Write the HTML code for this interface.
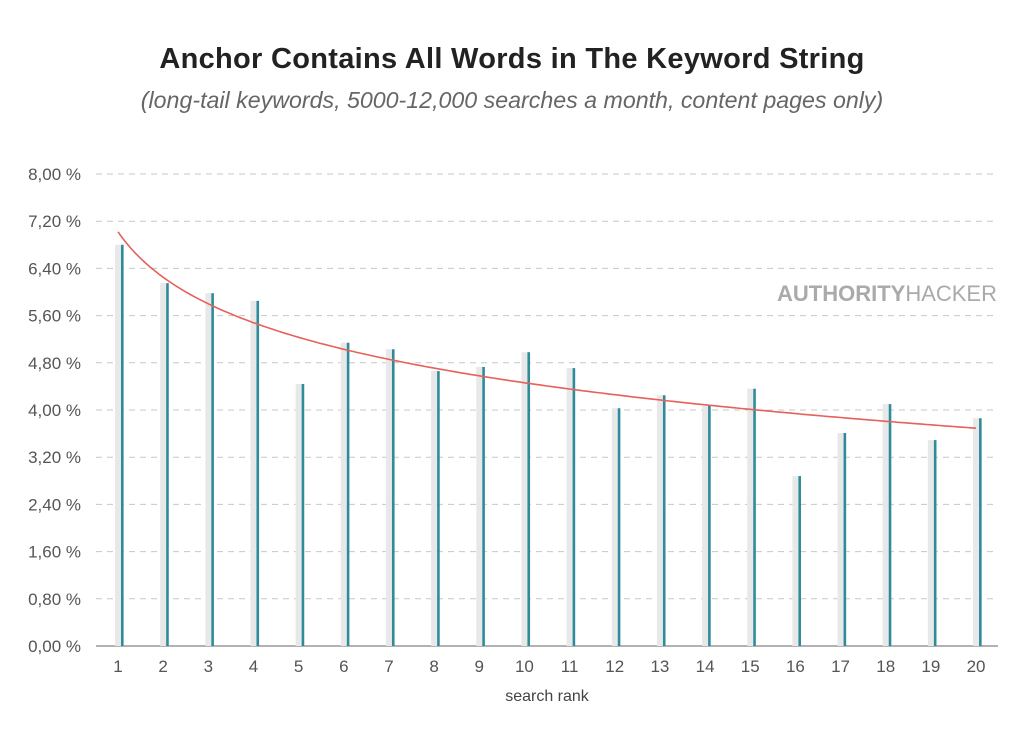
<!DOCTYPE html>
<html><head><meta charset="utf-8"><style>
body{margin:0;background:#fff;width:1024px;height:727px;overflow:hidden;font-family:"Liberation Sans",sans-serif;}
</style></head><body>
<svg width="1024" height="727" xmlns="http://www.w3.org/2000/svg">
<text x="512" y="68" text-anchor="middle" font-family="Liberation Sans" font-weight="bold" font-size="29" fill="#222" letter-spacing="0.3">Anchor Contains All Words in The Keyword String</text>
<text x="512" y="108" text-anchor="middle" font-family="Liberation Sans" font-style="italic" font-size="23.2" fill="#666">(long-tail keywords, 5000-12,000 searches a month, content pages only)</text>
<g id="grid"></g>
<text x="997" y="301" text-anchor="end" font-family="Liberation Sans" font-size="22" fill="#aaa"><tspan font-weight="bold">AUTHORITY</tspan>HACKER</text>
<line x1="96" y1="646" x2="998" y2="646" stroke="#999" stroke-width="1.5"/>
<g id="bars"></g>
<path id="trend" fill="none" stroke="#e8605a" stroke-width="1.6"/>
<text x="547" y="701" text-anchor="middle" font-size="16" fill="#444">search rank</text>
</svg>
<script>
var ns="http://www.w3.org/2000/svg",svg=document.querySelector('svg');
var g=document.getElementById('grid'),b=document.getElementById('bars');
function el(p,t,a,txt){var e=document.createElementNS(ns,t);for(var k in a)e.setAttribute(k,a[k]);if(txt)e.textContent=txt;p.appendChild(e);return e;}
var labs=["0,00 %","0,80 %","1,60 %","2,40 %","3,20 %","4,00 %","4,80 %","5,60 %","6,40 %","7,20 %","8,00 %"];
for(var i=0;i<=10;i++){var y=646-i*47.2;
 if(i>0)el(g,'line',{x1:96,y1:y,x2:998,y2:y,stroke:'#c8c8c8','stroke-dasharray':'6,5','stroke-width':1});
 el(g,'text',{x:81,y:y+6,'text-anchor':'end','font-size':17,fill:'#555','font-family':'Liberation Sans'},labs[i]);}
var v=[6.80,6.15,5.98,5.85,4.44,5.14,5.03,4.66,4.73,4.98,4.71,4.03,4.25,4.07,4.36,2.88,3.61,4.10,3.49,3.86];
for(var i=0;i<20;i++){var c=118+i*45.16,h=v[i]*59;
 el(b,'rect',{x:c-3,y:646-h,width:6,height:h,fill:'#e8e8e8'});
 el(b,'rect',{x:c+3,y:646-h,width:2.6,height:h,fill:'#2e8b9a'});
 el(b,'text',{x:c,y:672,'text-anchor':'middle','font-size':17,fill:'#555','font-family':'Liberation Sans'},String(i+1));}
var d='';for(var t=1;t<=20.01;t+=0.1){var x=118+(t-1)*45.16,val=7.02-1.111*Math.log(t);d+=(d?'L':'M')+x.toFixed(1)+','+(646-val*59).toFixed(1);}
document.getElementById('trend').setAttribute('d',d);
</script>
</body></html>
